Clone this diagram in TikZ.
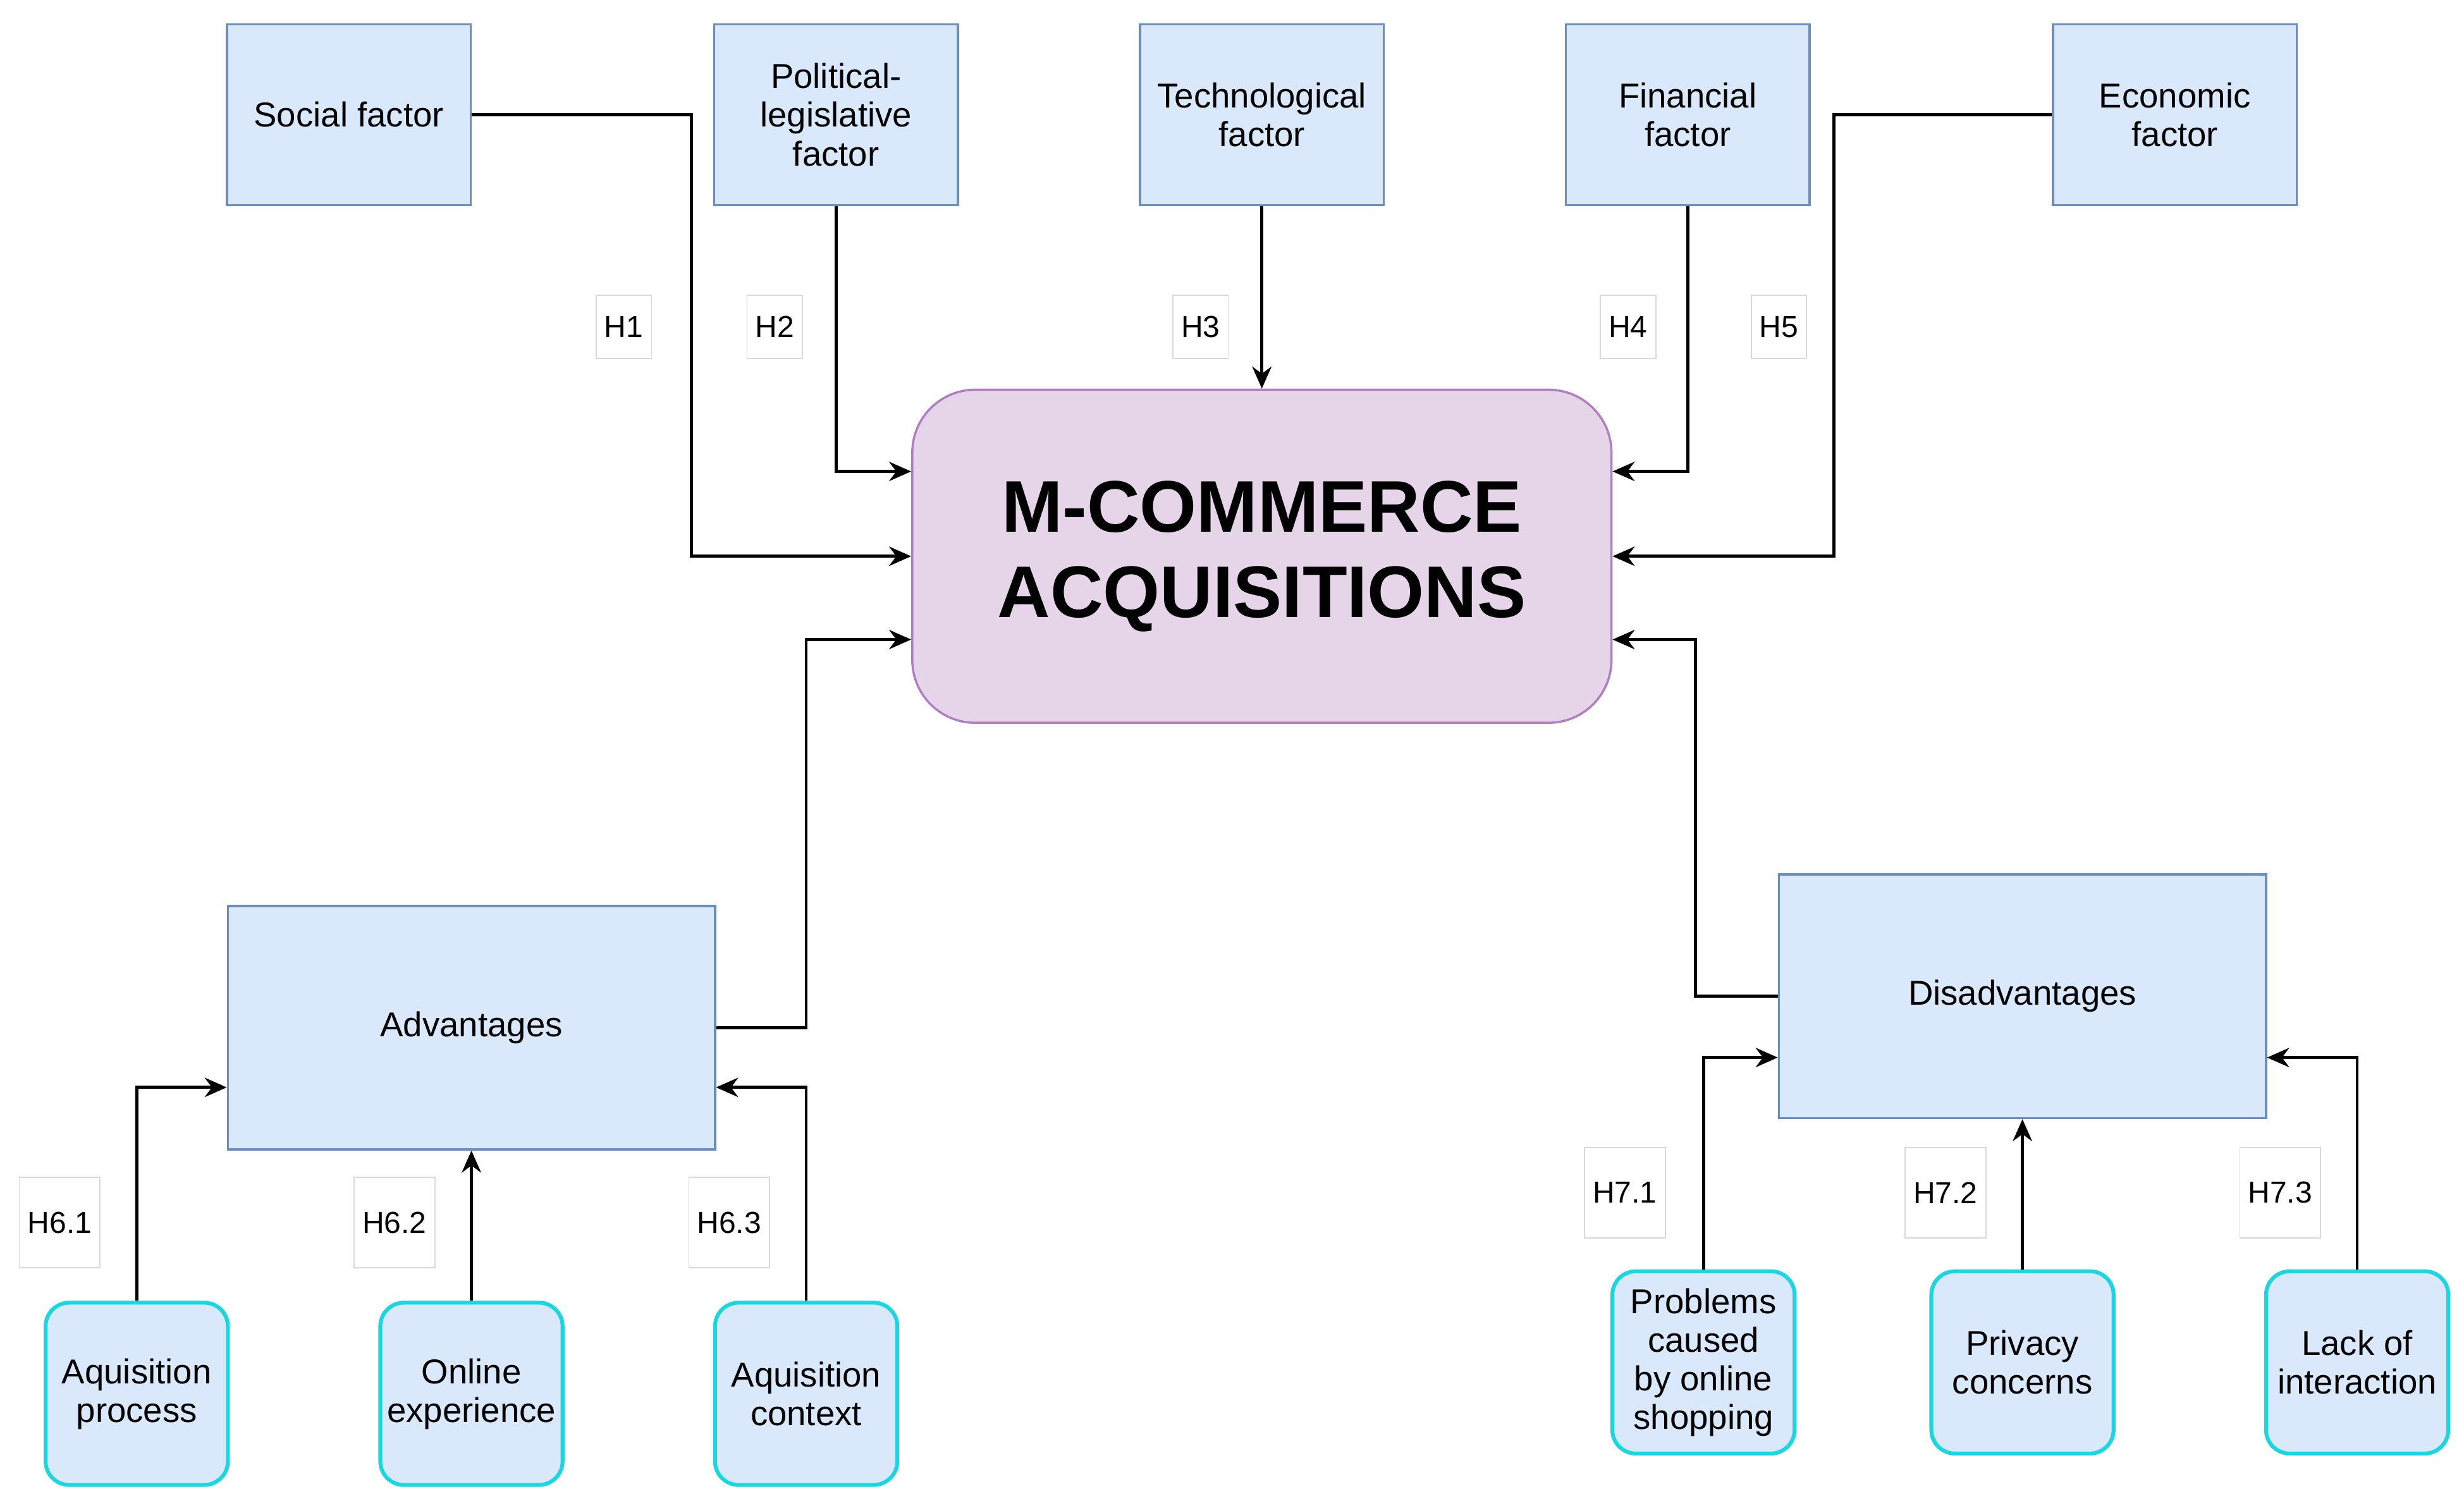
\documentclass[tikz,border=0pt]{standalone}
\usepackage{fontspec}
\setmainfont{Liberation Sans}
\usetikzlibrary{arrows.meta,calc}
\definecolor{boxfill}{HTML}{DAE8FC}
\definecolor{boxline}{HTML}{6C8EBF}
\definecolor{mainfill}{HTML}{E6D5E9}
\definecolor{mainline}{HTML}{B07FC3}
\definecolor{cyanline}{HTML}{1AD6E0}
\tikzset{
  factor/.style={draw=boxline,fill=boxfill,line width=0.8pt,minimum width=3.1cm,minimum height=2.3cm,align=center,font=\fontsize{12.5}{14}\selectfont},
  group/.style={factor,minimum width=6.2cm,minimum height=3.1cm},
  item/.style={draw=cyanline,fill=boxfill,line width=1.4pt,rounded corners=0.3cm,minimum width=2.32cm,minimum height=2.32cm,align=center,inner sep=0pt,font=\fontsize{12.5}{14}\selectfont},
  hyp/.style={draw=black!15,fill=white,minimum height=0.8cm,inner sep=3pt,font=\fontsize{11}{12}\selectfont},
  arr/.style={line width=1.1pt,-{Stealth[length=8pt,width=7pt]}}
}
\begin{document}
\begin{tikzpicture}[x=0.02cm,y=-0.02cm]
\useasboundingbox (0,0) rectangle (1568,955);
% factors on top
\node[factor] (soc) at (222,73) {Social factor};
\node[factor] (pol) at (532,73) {Political-\\legislative\\factor};
\node[factor] (tec) at (803,73) {Technological\\factor};
\node[factor] (fin) at (1074,73) {Financial\\factor};
\node[factor] (eco) at (1384,73) {Economic\\factor};
% centre
\node[draw=mainline,fill=mainfill,line width=0.8pt,rounded corners=0.8cm,minimum width=8.9cm,minimum height=4.24cm,align=center,font=\fontsize{26.5}{31}\bfseries\selectfont] (main) at (803,354) {M-COMMERCE\\ACQUISITIONS};
% groups
\node[group] (adv) at (300,654) {Advantages};
\node[group] (dis) at (1287,634) {Disadvantages};
\node[item] (ap) at (87,887) {Aquisition\\process};
\node[item] (oe) at (300,887) {Online\\experience};
\node[item] (ac) at (513,887) {Aquisition\\context};
\node[item] (pr) at (1084,867) {Problems\\caused\\by online\\shopping};
\node[item] (pc) at (1287,867) {Privacy\\concerns};
\node[item] (li) at (1500,867) {Lack of\\interaction};
% bend points
\coordinate (k1) at (440,0);
\coordinate (k5) at (1167,0);
\coordinate (ka) at (513,0);
\coordinate (kd) at (1079,0);
% connectors
\draw[arr] (soc.east) -- (soc.east -| k1) |- (main.west);
\draw[arr] (pol.south) |- ([yshift=1.08cm]main.west);
\draw[arr] (tec.south) -- (main.north);
\draw[arr] (fin.south) |- ([yshift=1.08cm]main.east);
\draw[arr] (eco.west) -- (eco.west -| k5) |- (main.east);
\draw[arr] (adv.east) -- (adv.east -| ka) |- ([yshift=-1.06cm]main.west);
\draw[arr] (dis.west) -- (dis.west -| kd) |- ([yshift=-1.06cm]main.east);
\draw[arr] (ap.north) |- ([yshift=-0.76cm]adv.west);
\draw[arr] (oe.north) -- (adv.south);
\draw[arr] (ac.north) |- ([yshift=-0.76cm]adv.east);
\draw[arr] (pr.north) |- ([yshift=-0.78cm]dis.west);
\draw[arr] (pc.north) -- (dis.south);
\draw[arr] (li.north) |- ([yshift=-0.78cm]dis.east);
% hypotheses
\node[hyp] (h1) at (397,208) {H1};
\node[hyp] (h2) at (493,208) {H2};
\node[hyp] (h3) at (764,208) {H3};
\node[hyp] (h4) at (1036,208) {H4};
\node[hyp] (h5) at (1132,208) {H5};
\node[hyp,minimum height=1.15cm] (h61) at (38,778) {H6.1};
\node[hyp,minimum height=1.15cm] (h62) at (251,778) {H6.2};
\node[hyp,minimum height=1.15cm] (h63) at (464,778) {H6.3};
\node[hyp,minimum height=1.15cm] (h71) at (1034,759) {H7.1};
\node[hyp,minimum height=1.15cm] (h72) at (1238,759) {H7.2};
\node[hyp,minimum height=1.15cm] (h73) at (1451,759) {H7.3};
\end{tikzpicture}
\end{document}
